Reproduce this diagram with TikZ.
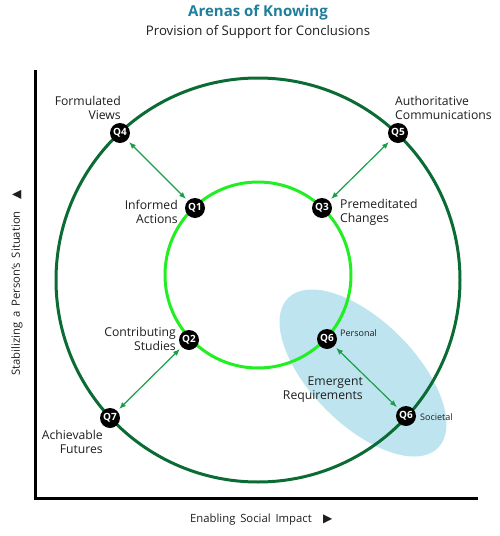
\documentclass[tikz,border=0pt]{standalone}
\usepackage{fontspec}
\setmainfont{Open Sans}
\newfontfamily\symfont{DejaVu Sans}
\usetikzlibrary{arrows.meta}
\definecolor{outerg}{HTML}{0B6B35}
\definecolor{innerg}{HTML}{22EE22}
\definecolor{arrg}{HTML}{1A9F48}
\definecolor{ellb}{HTML}{BEE5EF}
\definecolor{titleb}{HTML}{1F7E9C}
\definecolor{txt}{HTML}{1E1E1E}
\begin{document}
\begin{tikzpicture}[x=1pt,y=-1pt,
  qnode/.style={circle, fill=black, minimum size=20pt, inner sep=0pt, text=white,
    font=\fontsize{10}{10}\selectfont\bfseries},
  lbl/.style={font=\fontsize{12.2}{14}\selectfont, text=txt, inner sep=0pt},
  lblr/.style={lbl, anchor=east, align=right},
  lbll/.style={lbl, anchor=west, align=left},
  small/.style={font=\fontsize{9}{10}\selectfont, text=txt, inner sep=0pt, anchor=west},
  link/.style={arrg, line width=1.2pt, {Latex[length=7pt,width=5.5pt]}-{Latex[length=7pt,width=5.5pt]},
    shorten >=2.5pt, shorten <=2.5pt},
  axislbl/.style={font=\fontsize{11.3}{12}\selectfont, text=txt, inner sep=0pt, anchor=west}
]
\useasboundingbox (0,0) rectangle (500,536);
% ellipse
\fill[ellb, rotate around={-45:(363,373)}] (363,373) ellipse [x radius=106, y radius=52];
% circles
\node[circle, draw=outerg, line width=3pt, minimum size=404pt, inner sep=0pt] (outer) at (258,280) {};
\node[circle, draw=innerg, line width=3pt, minimum size=186pt, inner sep=0pt] (inner) at (258,275) {};
% axes
\coordinate (ytop) at (35,70);
\coordinate (xend) at (478,498);
\draw[line width=3pt, black] (ytop) |- (xend);
% title
\node[font=\fontsize{15}{17}\selectfont\bfseries, text=titleb, inner sep=0pt] (title) at (258,13) {Arenas of Knowing};
\node[font=\fontsize{13.2}{15}\selectfont, text=txt, inner sep=0pt] (subtitle) at (258,32) {Provision of Support for Conclusions};
% axis labels
\node[axislbl, rotate=90] (ylab) at (17,376) {Stabilizing\, a\, Person’s\, Situation\quad{\symfont\fontsize{12}{12}\selectfont ▲}};
\node[axislbl] (xlab) at (190,520) {Enabling\, Social\, Impact\quad{\symfont\fontsize{12}{12}\selectfont ▶}};
% q nodes
\node[qnode] (q4) at (120,133) {Q4};
\node[qnode] (q1) at (195,208) {Q1};
\node[qnode] (q3) at (322,208) {Q3};
\node[qnode] (q5) at (398,133) {Q5};
\node[qnode] (q2) at (189,340) {Q2};
\node[qnode] (q7) at (110,418) {Q7};
\node[qnode] (q6p) at (327,339) {Q6};
\node[qnode] (q6s) at (406,416) {Q6};
% links
\draw[link] (q4) -- (q1);
\draw[link] (q5) -- (q3);
\draw[link] (q2) -- (q7);
\draw[link] (q6p) -- (q6s);
% labels
\node[lblr] (lq4) at (121,108) {Formulated\\Views};
\node[lblr] (lq1) at (178,212) {Informed\\Actions};
\node[lbll] (lq3) at (340,212) {Premeditated\\Changes};
\node[lbll] (lq5) at (395,108) {Authoritative\\Communications};
\node[lblr] (lq2) at (176,338.5) {Contributing\\Studies};
\node[lblr] (lq7) at (103,442) {Achievable\\Futures};
\node[lblr] (lem) at (363,390) {Emergent\\Requirements};
\node[small] (lpers) at (340,333) {Personal};
\node[small] (lsoc) at (420,417) {Societal};
\end{tikzpicture}
\end{document}
